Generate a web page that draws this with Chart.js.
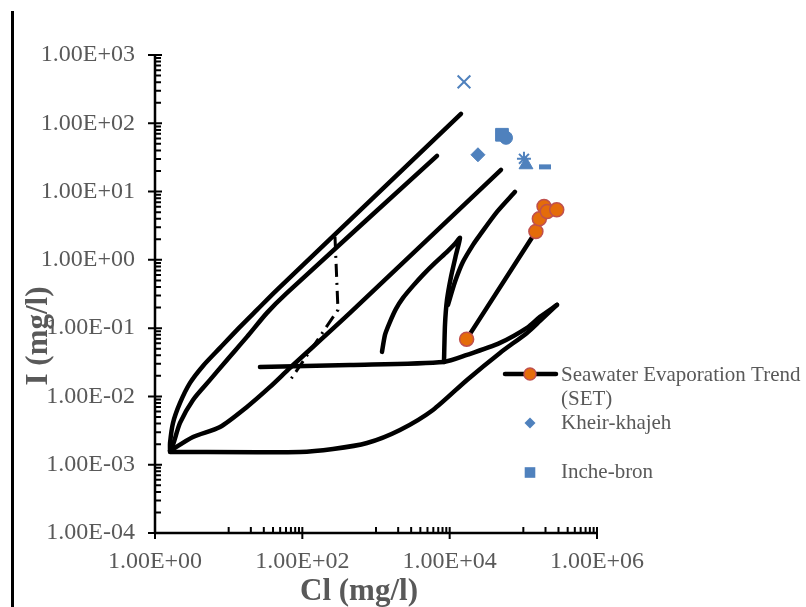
<!DOCTYPE html>
<html>
<head>
<meta charset="utf-8">
<script src="https://cdn.jsdelivr.net/npm/chart.js@4.4.0/dist/chart.umd.min.js"></script>
<style>
  html, body { margin: 0; padding: 0; background: #fff; }
  #wrap { position: relative; width: 806px; height: 607px; overflow: hidden; }
  #bar { position: absolute; left: 11px; top: 11px; width: 3px; height: 596px; background: #000; }
</style>
</head>
<body>
<div id="wrap">
  <canvas id="chart" width="806" height="607"></canvas>
  <div id="bar"></div>
</div>
<script>
'use strict'

// axis ticks (Cl on x, I on y, both mg/l, log scales)
const xTicks = [1, 1e2, 1e4, 1e6];
const yTicks = [1e-4, 1e-3, 1e-2, 1e-1, 1, 10, 100, 1000];

// Seawater Evaporation Trend (SET) points
const setCl = [17000, 148000, 165000, 191000, 211000, 284000];
const setI = [0.069, 2.6, 3.99, 6.04, 5.1, 5.4];

// sample sites (blue markers)
const kheirCl = [24200], kheirI = [34.6];
const incheCl = [51300], incheI = [67.9];
const triCl = [108600], triI = [24.7];
const crossCl = [15650], crossI = [405];
const starCl = [102000], starI = [30.2];
const circCl = [58200], circI = [61.3];
const dashCl = [196700], dashI = [23.0];

// evaporation trend curves (black)
const curveACl = [1.6, 1.6, 1.755, 2.185, 2.99, 4.48, 7.63, 14.25, 24.2, 45.3, 14240];
const curveAI = [0.00159, 0.00208, 0.00409, 0.00803, 0.01577, 0.02798, 0.0514, 0.1043, 0.185, 0.3635, 137.8];
const curveBCl = [1.6, 1.755, 2.185, 3.28, 5.58, 9.49, 17.7, 33.1, 61.9, 6727];
const curveBI = [0.00159, 0.00195, 0.00409, 0.00889, 0.01745, 0.03425, 0.0744, 0.1673, 0.3286, 33.4];
const curveCCl = [1.6, 3.28, 7.63, 17.7, 36.4, 68.0, 443.6, 49720];
const curveCI = [0.00159, 0.00255, 0.00357, 0.00702, 0.01378, 0.02616, 0.1673, 20.8];
const curveDCl = [1.6, 92.9, 260.8, 754.6, 2117, 5937, 17190, 48190, 112100, 168300, 286300];
const curveDI = [0.00154, 0.00154, 0.0017, 0.00208, 0.00323, 0.00634, 0.01745, 0.0434, 0.0852, 0.1277, 0.2191];
const curveECl = [26.6, 443.6, 8374, 17190, 48190, 112100, 168300, 286300];
const curveEI = [0.02705, 0.02894, 0.03202, 0.04055, 0.0608, 0.1009, 0.1462, 0.2191];
const spikeCl = [1206, 1324, 1548, 1867, 2325, 3178, 4343, 6320, 9197, 11810, 13810, 12180, 10420, 9197, 8640, 8374];
const spikeI = [0.0449, 0.0796, 0.1235, 0.1914, 0.2775, 0.4159, 0.6031, 0.9036, 1.31, 1.716, 2.10, 1.184, 0.5636, 0.2594, 0.1116, 0.03202];
const branchCl = [9489, 11810, 15160, 20730, 25800, 43890, 77030];
const branchI = [0.2191, 0.4762, 0.9348, 1.659, 2.325, 5.05, 9.92];
const dashDotCl = [277.5, 304.8, 65.9];
const dashDotI = [2.17, 0.185, 0.01632];

const blue = '#4F81BD';
const textGray = '#595959';
const serif = '"Liberation Serif", "Times New Roman", serif';

function pts(xs, ys) {
  return xs.map((v, i) => ({ x: v, y: ys[i] }));
}

function sci(v) {
  const e = Math.round(Math.log10(v));
  const m = (v / Math.pow(10, e)).toFixed(2);
  return m + 'E' + (e < 0 ? '-' : '+') + String(Math.abs(e)).padStart(2, '0');
}

let yMinor = [];
for (let e = -4; e < 3; e++) for (let m = 2; m < 10; m++) yMinor.push(m * Math.pow(10, e));
let xMinor = [];
for (let e = 1; e < 6; e += 2) for (let m = 1; m < 10; m++) xMinor.push(m * Math.pow(10, e));

function marker(label, xs, ys, style, r, bw) {
  return {
    label: label, data: pts(xs, ys), showLine: false,
    pointStyle: style, pointRadius: r, pointHoverRadius: r,
    backgroundColor: blue, borderColor: blue, pointBorderWidth: bw
  };
}

function curve(xs, ys, extra) {
  return Object.assign({
    label: 'trend', data: pts(xs, ys), showLine: true,
    borderColor: '#000', borderWidth: 4.5, pointRadius: 0, pointHoverRadius: 0,
    borderCapStyle: 'round', borderJoinStyle: 'round', tension: 0.25, fill: false
  }, extra || {});
}

const axesPlugin = {
  id: 'excelAxes',
  beforeDatasetsDraw(chart) {
    const ctx = chart.ctx, a = chart.chartArea;
    const x = chart.scales.x, y = chart.scales.y;
    ctx.save();
    ctx.strokeStyle = '#000';
    ctx.lineWidth = 2.5;
    ctx.beginPath();
    ctx.moveTo(a.left, a.top);
    ctx.lineTo(a.left, a.bottom);
    ctx.moveTo(a.left, a.bottom);
    ctx.lineTo(a.right, a.bottom);
    ctx.stroke();
    ctx.lineWidth = 2;
    ctx.beginPath();
    yTicks.forEach(v => { const p = y.getPixelForValue(v); ctx.moveTo(a.left - 7, p); ctx.lineTo(a.left + 7, p); });
    yMinor.forEach(v => { const p = y.getPixelForValue(v); ctx.moveTo(a.left, p); ctx.lineTo(a.left + 6, p); });
    xTicks.forEach(v => { const p = x.getPixelForValue(v); ctx.moveTo(p, a.bottom - 6); ctx.lineTo(p, a.bottom + 6); });
    xMinor.forEach(v => { const p = x.getPixelForValue(v); ctx.moveTo(p, a.bottom - 6); ctx.lineTo(p, a.bottom); });
    ctx.stroke();
    ctx.restore();
  },
  afterDraw(chart) {
    const ctx = chart.ctx;
    ctx.save();
    // axis titles
    ctx.fillStyle = textGray;
    ctx.font = 'bold 31px ' + serif;
    ctx.textAlign = 'center';
    ctx.textBaseline = 'alphabetic';
    ctx.fillText('Cl (mg/l)', 359, 600);
    ctx.save();
    ctx.translate(47, 336);
    ctx.rotate(-Math.PI / 2);
    ctx.fillText('I (mg/l)', 0, 0);
    ctx.restore();

    // legend (clipped like the original)
    ctx.strokeStyle = '#000';
    ctx.lineWidth = 4.5;
    ctx.lineCap = 'round';
    ctx.beginPath();
    ctx.moveTo(505, 374);
    ctx.lineTo(556, 374);
    ctx.stroke();
    ctx.beginPath();
    ctx.arc(530, 374, 6, 0, Math.PI * 2);
    ctx.fillStyle = '#E46C0A';
    ctx.fill();
    ctx.lineWidth = 1.5;
    ctx.strokeStyle = '#C0504D';
    ctx.stroke();

    ctx.fillStyle = blue;
    ctx.beginPath();
    ctx.moveTo(530, 417.5);
    ctx.lineTo(535.5, 423);
    ctx.lineTo(530, 428.5);
    ctx.lineTo(524.5, 423);
    ctx.closePath();
    ctx.fill();
    ctx.fillRect(524.7, 467.2, 10.6, 10.6);

    ctx.fillStyle = textGray;
    ctx.font = '21px ' + serif;
    ctx.textAlign = 'left';
    ctx.textBaseline = 'middle';
    ctx.fillText('Seawater Evaporation Trend', 561, 375);
    ctx.fillText('(SET)', 561, 399);
    ctx.fillText('Kheir-khajeh', 561, 423);
    ctx.fillText('Inche-bron', 561, 472);
    ctx.restore();
  }
};

const ctx = document.getElementById('chart').getContext('2d');
const chart = new Chart(ctx, {
  type: 'scatter',
  data: {
    datasets: [
      {
        label: 'Seawater Evaporation Trend (SET)', data: pts(setCl, setI), showLine: true,
        borderColor: '#000', borderWidth: 4.5, borderCapStyle: 'round',
        pointRadius: 7, pointHoverRadius: 7, pointBackgroundColor: '#E46C0A',
        pointBorderColor: '#C0504D', pointBorderWidth: 1.5
      },
      marker('Kheir-khajeh', kheirCl, kheirI, 'rectRot', 7, 1),
      marker('Inche-bron', incheCl, incheI, 'rect', 9, 1),
      marker('Site 3', triCl, triI, 'triangle', 8, 1),
      marker('Site 4', crossCl, crossI, 'crossRot', 9, 2),
      marker('Site 5', starCl, starI, 'star', 7, 2),
      marker('Site 6', circCl, circI, 'circle', 6.5, 1),
      marker('Site 7', dashCl, dashI, 'line', 6, 5),
      curve(curveACl, curveAI),
      curve(curveBCl, curveBI),
      curve(curveCCl, curveCI),
      curve(curveDCl, curveDI),
      curve(curveECl, curveEI),
      curve(spikeCl, spikeI, { tension: 0.2 }),
      curve(branchCl, branchI),
      curve(dashDotCl, dashDotI, { borderWidth: 3, tension: 0, borderDash: [13, 6, 2, 6], borderCapStyle: 'butt' })
    ]
  },
  options: {
    responsive: false,
    animation: false,
    layout: { padding: { top: 55, right: 209, left: 0, bottom: 0 } },
    plugins: { legend: { display: false }, tooltip: { enabled: false } },
    scales: {
      x: {
        type: 'logarithmic', min: 1, max: 1e6,
        grid: { display: false, drawTicks: false },
        border: { display: false },
        afterBuildTicks: s => { s.ticks = xTicks.map(v => ({ value: v })); },
        afterFit: s => { s.height = 74; },
        ticks: {
          autoSkip: false, maxRotation: 0, padding: 14, color: textGray,
          font: { family: serif, size: 24 }, callback: v => sci(v)
        }
      },
      y: {
        type: 'logarithmic', min: 1e-4, max: 1e3,
        grid: { display: false, drawTicks: false },
        border: { display: false },
        afterBuildTicks: s => { s.ticks = yTicks.map(v => ({ value: v })); },
        afterFit: s => { s.width = 155; },
        ticks: {
          autoSkip: false, padding: 20, color: textGray,
          font: { family: serif, size: 24 }, callback: v => sci(v)
        }
      }
    }
  },
  plugins: [axesPlugin]
});
</script>
</body>
</html>
